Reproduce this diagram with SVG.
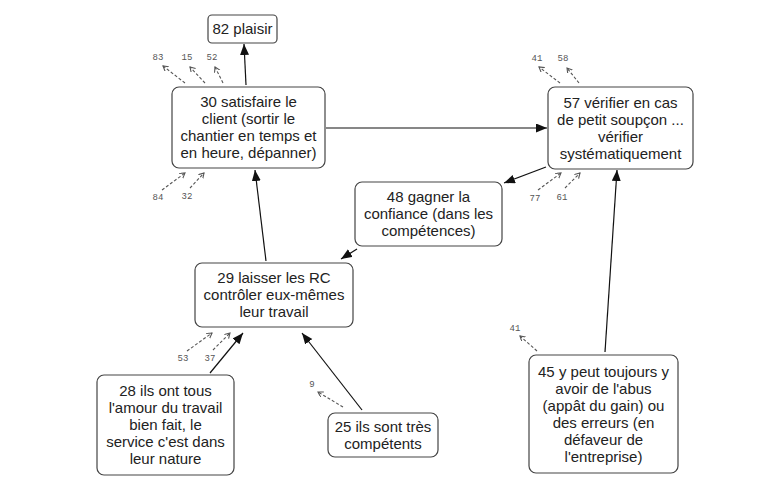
<svg xmlns="http://www.w3.org/2000/svg" width="777" height="490" viewBox="0 0 777 490">
<style>
.box{fill:#fff;stroke:#444;stroke-width:1.2}
.t{font-family:"Liberation Sans",Arial,sans-serif;font-size:15px;fill:#222;text-anchor:middle}
.lab{font-family:"Liberation Mono","Courier New",monospace;font-size:9px;fill:#555;text-anchor:middle}
.c{stroke:#111;stroke-width:1.2;fill:none;marker-end:url(#ah)}
.d{stroke:#555;stroke-width:1.1;fill:none;stroke-dasharray:3 2;marker-end:url(#dh)}
</style>
<defs>
<marker id="ah" markerUnits="userSpaceOnUse" markerWidth="12" markerHeight="10" refX="11" refY="4.5" orient="auto">
<path d="M0,0 L11,4.5 L0,9 z" fill="#111"/>
</marker>
<marker id="dh" markerUnits="userSpaceOnUse" markerWidth="7" markerHeight="7" refX="5" refY="3" orient="auto">
<path d="M0,0 L5,3 L0,6" fill="none" stroke="#555" stroke-width="1.1"/>
</marker>
</defs>
<rect width="777" height="490" fill="#fff"/>
<g id="connectors">
<line class="c" x1="246" y1="85" x2="244" y2="44"/>
<line class="c" x1="326" y1="128" x2="547" y2="128"/>
<line class="c" x1="546" y1="167" x2="504" y2="183"/>
<line class="c" x1="357" y1="249" x2="341" y2="259"/>
<line class="c" x1="266" y1="261" x2="255" y2="170"/>
<line class="c" x1="210" y1="373" x2="243" y2="333"/>
<line class="c" x1="362" y1="410" x2="302" y2="333"/>
<line class="c" x1="605" y1="352" x2="617" y2="170"/>
<line class="d" x1="185" y1="83" x2="163" y2="66"/>
<line class="d" x1="205" y1="83" x2="190" y2="67"/>
<line class="d" x1="223" y1="83" x2="215" y2="67"/>
<line class="d" x1="162" y1="190" x2="185" y2="173"/>
<line class="d" x1="190" y1="188" x2="204" y2="173"/>
<line class="d" x1="560" y1="83" x2="539" y2="67"/>
<line class="d" x1="579" y1="83" x2="567" y2="68"/>
<line class="d" x1="538" y1="190" x2="561" y2="173"/>
<line class="d" x1="565" y1="188" x2="580" y2="173"/>
<line class="d" x1="187" y1="351" x2="212" y2="333"/>
<line class="d" x1="213" y1="350" x2="230" y2="333"/>
<line class="d" x1="343" y1="407" x2="318" y2="392"/>
<line class="d" x1="537" y1="351" x2="520" y2="336"/>
<text class="lab" x="158" y="60">83</text>
<text class="lab" x="187" y="60">15</text>
<text class="lab" x="212" y="60">52</text>
<text class="lab" x="158" y="200">84</text>
<text class="lab" x="187" y="199">32</text>
<text class="lab" x="537" y="61">41</text>
<text class="lab" x="563" y="61">58</text>
<text class="lab" x="535" y="201">77</text>
<text class="lab" x="562" y="200">61</text>
<text class="lab" x="183" y="361">53</text>
<text class="lab" x="210" y="361">37</text>
<text class="lab" x="312" y="387">9</text>
<text class="lab" x="515" y="331">41</text>
</g>
<g id="n82">
<rect class="box" x="208" y="15" width="69" height="28" rx="4"/>
<text class="t" x="242.5" y="34">82 plaisir</text>
</g>
<g id="n30">
<rect class="box" x="172" y="87" width="153" height="81" rx="7"/>
<text class="t" x="248.5" y="107">30 satisfaire le</text>
<text class="t" x="248.5" y="124">client (sortir le</text>
<text class="t" x="248.5" y="141">chantier en temps et</text>
<text class="t" x="248.5" y="158">en heure, dépanner)</text>
</g>
<g id="n57">
<rect class="box" x="548" y="87" width="145" height="82" rx="7"/>
<text class="t" x="620.5" y="107.5">57 vérifier en cas</text>
<text class="t" x="620.5" y="124.5">de petit soupçon ...</text>
<text class="t" x="620.5" y="141.5">vérifier</text>
<text class="t" x="620.5" y="158.5">systématiquement</text>
</g>
<g id="n48">
<rect class="box" x="355" y="182" width="147" height="64" rx="7"/>
<text class="t" x="428.5" y="202">48 gagner la</text>
<text class="t" x="428.5" y="219">confiance (dans les</text>
<text class="t" x="428.5" y="236">compétences)</text>
</g>
<g id="n29">
<rect class="box" x="195" y="263" width="158" height="64" rx="7"/>
<text class="t" x="274" y="283">29 laisser les RC</text>
<text class="t" x="274" y="300">contrôler eux-mêmes</text>
<text class="t" x="274" y="317">leur travail</text>
</g>
<g id="n28">
<rect class="box" x="97" y="375" width="137" height="100" rx="7"/>
<text class="t" x="165.5" y="396">28 ils ont tous</text>
<text class="t" x="165.5" y="413">l'amour du travail</text>
<text class="t" x="165.5" y="430">bien fait, le</text>
<text class="t" x="165.5" y="447">service c'est dans</text>
<text class="t" x="165.5" y="464">leur nature</text>
</g>
<g id="n25">
<rect class="box" x="328" y="413" width="110" height="44" rx="7"/>
<text class="t" x="383" y="431.5">25 ils sont très</text>
<text class="t" x="383" y="448.5">compétents</text>
</g>
<g id="n45">
<rect class="box" x="529" y="355" width="149" height="118" rx="7"/>
<text class="t" x="603.5" y="376.5">45 y peut toujours y</text>
<text class="t" x="603.5" y="393.5">avoir de l'abus</text>
<text class="t" x="603.5" y="410.5">(appât du gain) ou</text>
<text class="t" x="603.5" y="427.5">des erreurs (en</text>
<text class="t" x="603.5" y="444.5">défaveur de</text>
<text class="t" x="603.5" y="461.5">l'entreprise)</text>
</g>
</svg>
